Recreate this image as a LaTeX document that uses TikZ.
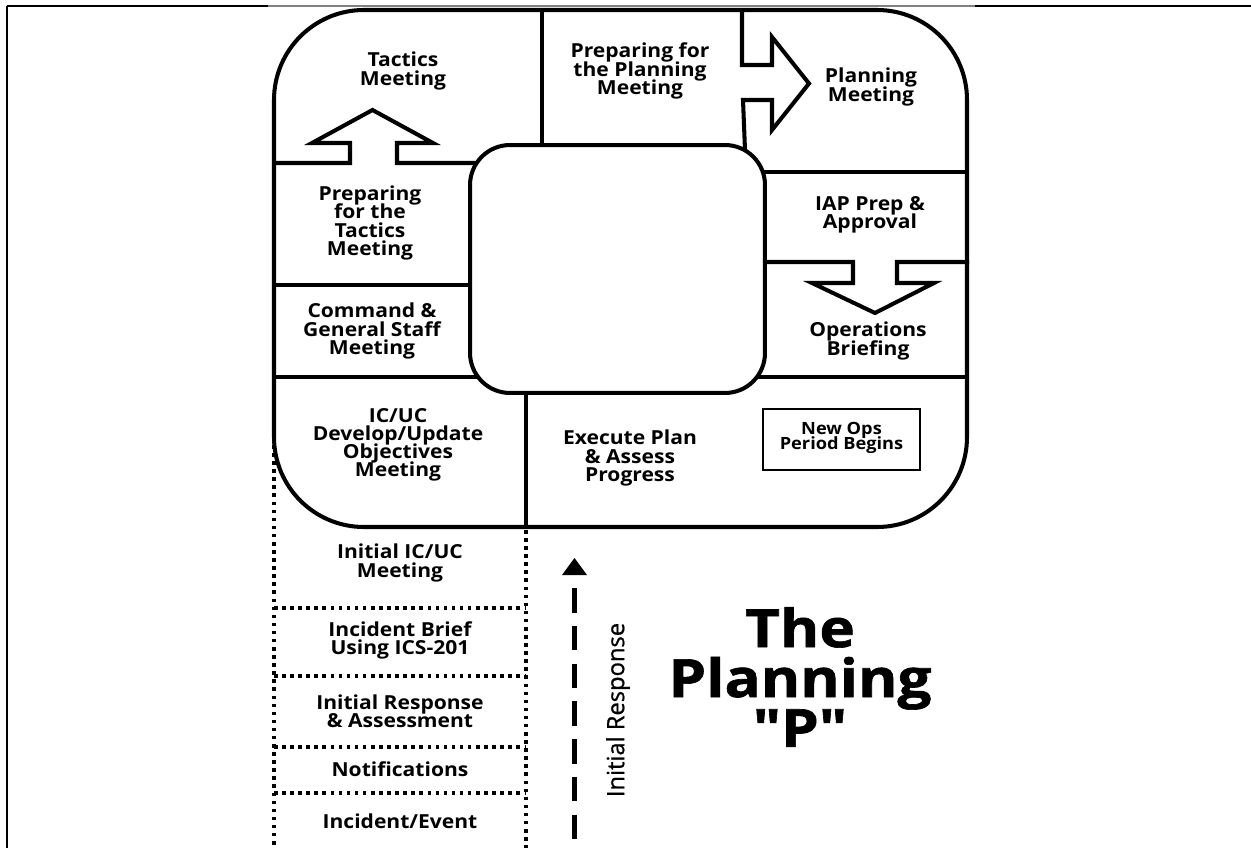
\documentclass[tikz,border=0pt]{standalone}
\usepackage{fontspec}
\setmainfont{Open Sans}
\newcommand{\tightlines}{\lineskiplimit=-100pt\lineskip=0pt}
\begin{document}
\begin{tikzpicture}[x=0.02cm,y=-0.02cm,
  frame/.style={line width=1.2pt},
  wall/.style={line width=2.3pt, line join=miter},
  dotline/.style={line width=2pt, dash pattern=on 2pt off 2.6pt},
  dashline/.style={line width=3.4pt, dash pattern=on 14pt off 7.5pt},
  lbl/.style={align=center, inner sep=0pt, font=\bfseries\fontsize{11}{10.3}\selectfont\addfontfeature{FakeStretch=1.09}\tightlines},
  small/.style={align=center, inner sep=0pt, font=\bfseries\fontsize{9.6}{8.7}\selectfont\addfontfeature{FakeStretch=1.08}\tightlines},
]
\useasboundingbox (0,0) rectangle (1251,848);
% frame
\draw[frame] (7,6) -- (268,6);
\draw[frame, gray] (268,6) -- (975,6);
\draw[frame] (975,6) -- (1251,6);
\draw[frame] (7,6) -- (7,848);
% outer P
\draw[wall, rounded corners=1.8cm] (274,10) rectangle (967,527);
% dividers and block arrows
\draw[wall] (542,10) -- (542,150);
\draw[wall] (742,10) -- (742,65) -- (772,65) -- (772,37) -- (809,83.5) -- (772,130) -- (772,100) -- (743,100) -- (745,150);
\draw[wall] (274,163) -- (350,163) -- (350,143) -- (312,143) -- (372.5,110) -- (433,143) -- (397,143) -- (397,163) -- (480,163);
\draw[wall] (274,285) -- (480,285);
\draw[wall] (274,377) -- (490,377);
\draw[wall] (526,380) -- (526,527);
\draw[wall] (755,172) -- (967,172);
\draw[wall] (755,262) -- (853,262) -- (853,283) -- (812,283) -- (875,313) -- (934,283) -- (897,283) -- (897,262) -- (969,262);
\draw[wall] (750,377) -- (967,377);
% core
\node (core) [draw, line width=2.3pt, fill=white, rounded corners=0.8cm,
  minimum width=5.9cm, minimum height=4.96cm, inner sep=0pt] at (617.5,269) {};
% new ops box
\node (newops) [draw, line width=1.3pt, minimum width=3.14cm, minimum height=1.22cm, inner sep=0pt] at (841.5,439.5) {};
\node (newopst) [small] at (841.5,438) {New Ops\\Period Begins};
% labels
\node (tac) [lbl] at (403,71) {Tactics\\Meeting};
\node (prepplan) [lbl] at (640,71) {Preparing for\\the Planning\\Meeting};
\node (plan) [lbl] at (871,87) {Planning\\Meeting};
\node (preptac) [lbl] at (370,223) {Preparing\\for the\\Tactics\\Meeting};
\node (cgs) [lbl] at (372,331) {Command \&\\General Staff\\Meeting};
\node (icuc) [lbl] at (398,445) {IC/UC\\Develop/Update\\Objectives\\Meeting};
\node (exec) [lbl] at (630,458) {Execute Plan\\\& Assess\\Progress};
\node (iap) [lbl] at (870,215) {IAP Prep \&\\Approval};
\node (ops) [lbl] at (868,341) {Operations\\Briefing};
% initial response column
\draw[dotline] (274,445) -- (274,848);
\draw[dotline] (526,530) -- (526,848);
\draw[dotline] (274,608) -- (526,608);
\draw[dotline] (274,676) -- (526,676);
\draw[dotline] (274,747) -- (526,747);
\draw[dotline] (274,793) -- (526,793);
\node (iicuc) [lbl] at (400,563) {Initial IC/UC\\Meeting};
\node (brief) [lbl] at (400,640) {Incident Brief\\Using ICS-201};
\node (resp) [lbl] at (400,711) {Initial Response\\\& Assessment};
\node (notif) [lbl] at (400,769) {Notifications};
\node (event) [lbl] at (400,821) {Incident/Event};
% initial response arrow
\coordinate (irtop) at (574.5,588);
\coordinate (irbot) at (574.5,850);
\draw[dashline] (irtop) -- (irbot);
\fill (562,575) -- (587,575) -- (574.5,558) -- cycle;
\node (irlabel) [rotate=90, inner sep=0pt, font=\fontsize{13.5}{14}\selectfont\addfontfeature{FakeBold=0.8}] at (618,710) {Initial Response};
% title
\node (title) [align=center, inner sep=0pt, font=\bfseries\fontsize{30}{28.4}\selectfont\addfontfeature{FakeStretch=1.14,FakeBold=1.2,Ligatures=TeXOff}\tightlines] at (800,677) {The\\Planning\\"P"};
\end{tikzpicture}
\end{document}
